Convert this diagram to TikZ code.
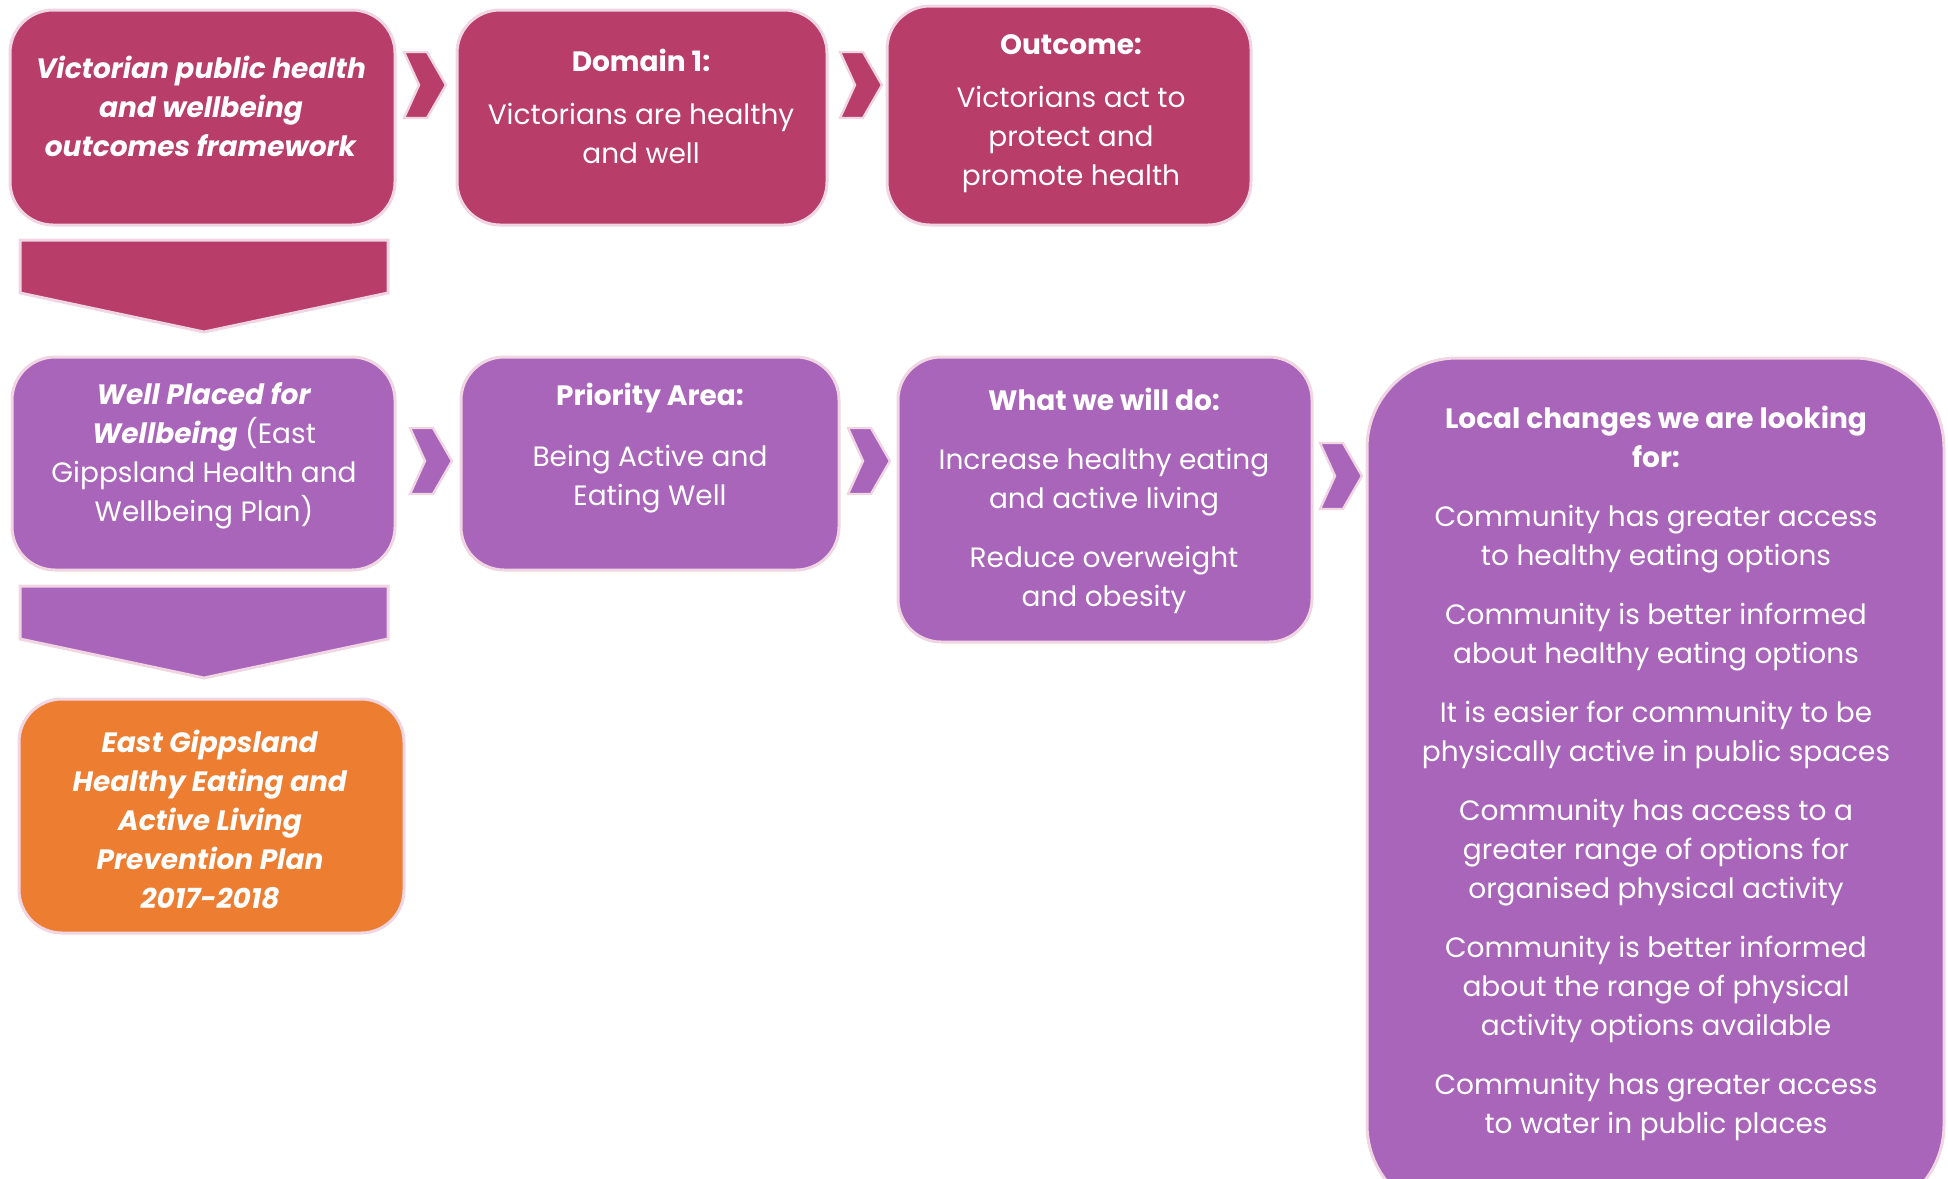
\documentclass[tikz,border=0pt]{standalone}
\usepackage{fontspec}
\setmainfont{Poppins}
\definecolor{mag}{HTML}{B83D68}
\definecolor{pur}{HTML}{A965BA}
\definecolor{org}{HTML}{ED7D31}
\definecolor{rim}{HTML}{F0D5E3}
\begin{document}
\begin{tikzpicture}[x=0.5pt,y=-0.5pt,
  box/.style={draw=rim, line width=1.5pt, rounded corners=21.5pt, inner sep=0pt},
  txt/.style={text=white, align=center, font=\fontsize{14}{19.5}\selectfont, inner sep=0pt},
  chevshape/.style={draw=rim, line width=1.2pt},
  chev/.pic={\path[pic actions] (0,-33)--(23,-33)--(42,0)--(23,33)--(0,33)--(15,0)--cycle;},
  downarrow/.style={draw=rim, line width=1.5pt}
]
\useasboundingbox (0,0) rectangle (1948,1178);
\clip (0,0) rectangle (1948,1178);

% boxes
\node[box, fill=mag, minimum width=192.5pt, minimum height=107.5pt] (b1) at (202.5,117.5) {};
\node[box, fill=mag, minimum width=185pt, minimum height=107.5pt] (b2) at (642,117.5) {};
\node[box, fill=mag, minimum width=182pt, minimum height=109.5pt] (b3) at (1069,115.5) {};
\node[box, fill=pur, minimum width=191.5pt, minimum height=106.5pt] (b4) at (203.5,463.5) {};
\node[box, fill=pur, minimum width=189pt, minimum height=106.5pt] (b5) at (650,463.5) {};
\node[box, fill=pur, minimum width=207pt, minimum height=142.5pt] (b6) at (1105,499.5) {};
\node[box, fill=pur, rounded corners=45pt, minimum width=288.5pt, minimum height=428.5pt] (b7) at (1655.5,786.5) {};
\node[box, fill=org, minimum width=192.5pt, minimum height=117pt] (b8) at (211.5,816) {};

% chevrons
\pic[chevshape, fill=mag] (c1) at (404,85) {chev};
\pic[chevshape, fill=mag] (c2) at (840,85) {chev};
\pic[chevshape, fill=pur] (c3) at (410,461) {chev};
\pic[chevshape, fill=pur] (c4) at (848,461) {chev};
\pic[chevshape, fill=pur] (c5) at (1320,476) {chev};

% down arrows
\path[downarrow, fill=mag] (20,240) coordinate (d1a) -- (388,240) -- (388,293) -- (204,332) coordinate (d1tip) -- (20,293) -- cycle;
\path[downarrow, fill=pur] (20,586) coordinate (d2a) -- (388,586) -- (388,639) -- (204,678) coordinate (d2tip) -- (20,639) -- cycle;

% texts
\node[txt] (t1) at (201,106) {\textbf{\textit{Victorian public health}}\\\textbf{\textit{and wellbeing}}\\\textbf{\textit{outcomes framework}}};
\node[txt] (t2) at (641,106) {\textbf{Domain 1:}\\[7pt]Victorians are healthy\\and well};
\node[txt] (t3) at (1071,114) {\textbf{Outcome:}\\[7pt]Victorians act to\\protect and\\promote health};
\node[txt] (t4) at (204,456) {\textbf{\textit{Well Placed for}}\\\textbf{\textit{Wellbeing}} (East\\Gippsland Health and\\Wellbeing Plan)};
\node[txt] (t5) at (650,448) {\textbf{Priority Area:}\\[11pt]Being Active and\\Eating Well};
\node[txt] (t6) at (1104,501) {\textbf{What we will do:}\\[10pt]Increase healthy eating\\and active living\\[10pt]Reduce overweight\\and obesity};
\node[txt] (t7) at (1656,773) {\textbf{Local changes we are looking}\\\textbf{for:}\\[10pt]Community has greater access\\to healthy eating options\\[10pt]Community is better informed\\about healthy eating options\\[10pt]It is easier for community to be\\physically active in public spaces\\[10pt]Community has access to a\\greater range of options for\\organised physical activity\\[10pt]Community is better informed\\about the range of physical\\activity options available\\[10pt]Community has greater access\\to water in public places};
\node[txt] (t8) at (210,819) {\textbf{\textit{East Gippsland}}\\\textbf{\textit{Healthy Eating and}}\\\textbf{\textit{Active Living}}\\\textbf{\textit{Prevention Plan}}\\\textbf{\textit{2017-2018}}};
\end{tikzpicture}
\end{document}
